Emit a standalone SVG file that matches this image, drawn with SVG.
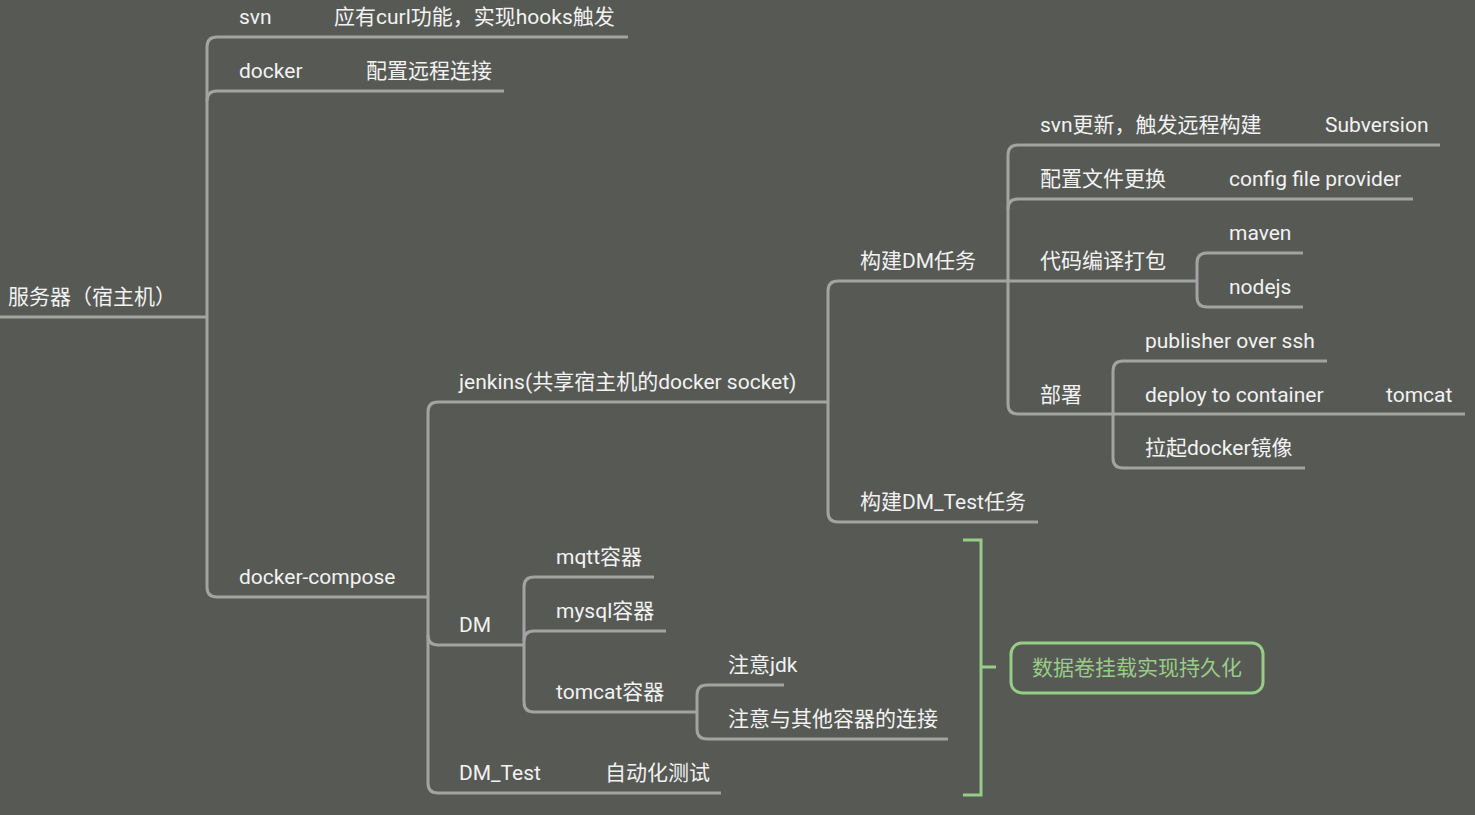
<svg xmlns="http://www.w3.org/2000/svg" width="1475" height="815" viewBox="0 0 1475 815">
<style>
text{font-family:Roboto,"Noto Sans CJK SC",sans-serif;font-size:21px;fill:#f2f2f2}
.c path{fill:none;stroke:#a3a4a1;stroke-width:3}
.g{fill:none;stroke:#97cd87;stroke-width:3}
text.gt{fill:#97cd87;text-anchor:middle}
</style>
<rect width="1475" height="815" fill="#575955"/>
<g class="c" id="connectors">
<path d="M0,317 H207"/>
<path d="M628,37 H217 Q207,37 207,47 V587 Q207,597 217,597 H428"/>
<path d="M207,101 Q207,91 217,91 H504"/>
<path d="M828,402 H438 Q428,402 428,412 V783 Q428,793 438,793 H721"/>
<path d="M428,635 Q428,645 438,645 H524"/>
<path d="M1008,281 H838 Q828,281 828,291 V512 Q828,522 838,522 H1038"/>
<path d="M1440,145 H1018 Q1008,145 1008,155 V404 Q1008,414 1018,414 H1465"/>
<path d="M1008,209 Q1008,199 1018,199 H1413"/>
<path d="M1008,281 H1197"/>
<path d="M1303,253 H1207 Q1197,253 1197,263 V297 Q1197,307 1207,307 H1303"/>
<path d="M1327,361 H1123 Q1113,361 1113,371 V458 Q1113,468 1123,468 H1305"/>
<path d="M654,577 H534 Q524,577 524,587 V702 Q524,712 534,712 H697"/>
<path d="M524,641 Q524,631 534,631 H666"/>
<path d="M784,685 H707 Q697,685 697,695 V729 Q697,739 707,739 H948"/>
</g>
<g id="root"><text x="8" y="304">服务器（宿主机）</text></g>
<g id="svn"><text x="239" y="24">svn</text></g>
<g id="svn-note"><text x="334" y="24">应有curl功能，实现hooks触发</text></g>
<g id="docker"><text x="239" y="78">docker</text></g>
<g id="docker-note"><text x="366" y="78">配置远程连接</text></g>
<g id="docker-compose"><text x="239" y="584">docker-compose</text></g>
<g id="jenkins"><text x="459" y="389">jenkins(共享宿主机的docker socket)</text></g>
<g id="dm"><text x="459" y="632">DM</text></g>
<g id="dm-test"><text x="459" y="780">DM_Test</text></g>
<g id="auto-test"><text x="605" y="780">自动化测试</text></g>
<g id="build-dm"><text x="860" y="268">构建DM任务</text></g>
<g id="build-dm-test"><text x="860" y="509">构建DM_Test任务</text></g>
<g id="svn-update"><text x="1040" y="132">svn更新，触发远程构建</text></g>
<g id="subversion"><text x="1325" y="132">Subversion</text></g>
<g id="config-replace"><text x="1040" y="186">配置文件更换</text></g>
<g id="config-provider"><text x="1229" y="186">config file provider</text></g>
<g id="compile"><text x="1040" y="268">代码编译打包</text></g>
<g id="maven"><text x="1229" y="240">maven</text></g>
<g id="nodejs"><text x="1229" y="294">nodejs</text></g>
<g id="deploy"><text x="1040" y="402">部署</text></g>
<g id="publisher"><text x="1145" y="348">publisher over ssh</text></g>
<g id="deploy-container"><text x="1145" y="402">deploy to container</text></g>
<g id="tomcat"><text x="1386" y="402">tomcat</text></g>
<g id="docker-image"><text x="1145" y="455">拉起docker镜像</text></g>
<g id="mqtt"><text x="556" y="564">mqtt容器</text></g>
<g id="mysql"><text x="556" y="618">mysql容器</text></g>
<g id="tomcat-container"><text x="556" y="699">tomcat容器</text></g>
<g id="jdk"><text x="728" y="672">注意jdk</text></g>
<g id="links"><text x="728" y="726">注意与其他容器的连接</text></g>
<g id="summary">
<path class="g" d="M963,540 H981 V795 H963 M981,667 H996"/>
<rect class="g" x="1011" y="643" width="252" height="50" rx="11"/>
<text class="gt" x="1137" y="675">数据卷挂载实现持久化</text>
</g>
</svg>
